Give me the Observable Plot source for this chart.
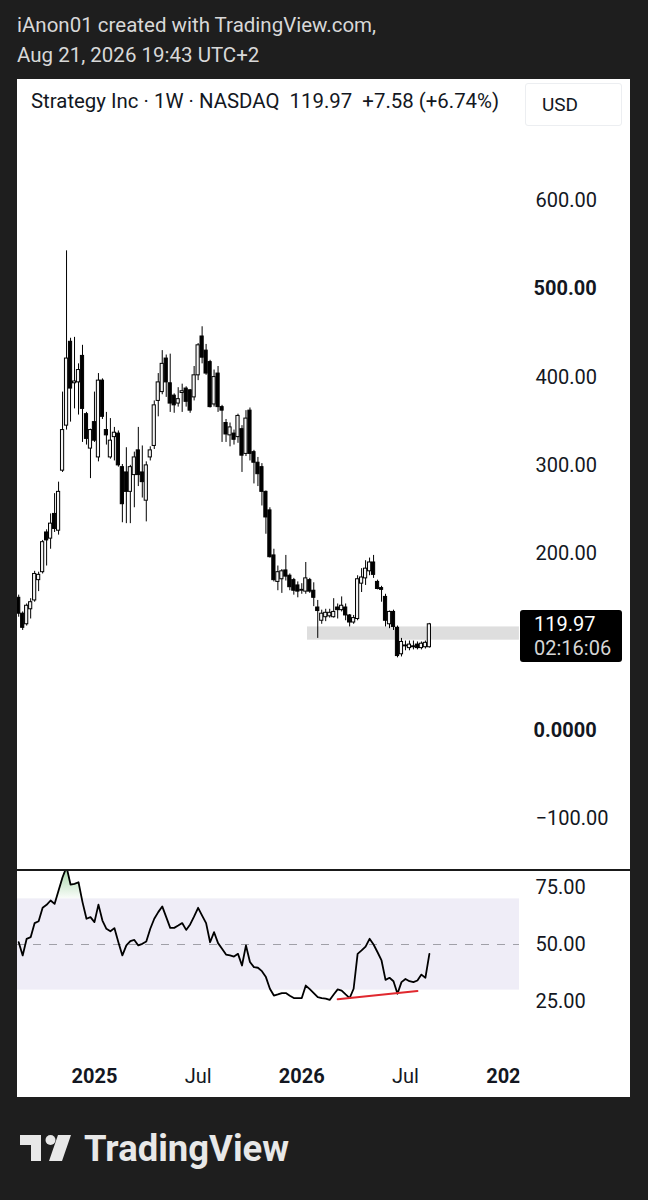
<!DOCTYPE html>
<html><head><meta charset="utf-8">
<script src="https://cdn.jsdelivr.net/npm/d3@7"></script>
<script src="https://cdn.jsdelivr.net/npm/@observablehq/plot@0.6"></script>
<style>
html,body{margin:0;padding:0;background:#1e1e1e;}
#wrap{position:relative;width:648px;height:1200px;overflow:hidden;font-family:Roboto,"Noto Sans",sans-serif;}
.credit{position:absolute;left:17px;color:#d8d8d8;font-size:20.5px;line-height:20px;white-space:pre;}
#panel{position:absolute;left:17px;top:79px;width:613px;height:1018px;background:#fff;overflow:hidden;}
#price{position:absolute;left:0;top:0;}
#rsi{position:absolute;left:0;top:792px;}
#sep{position:absolute;left:0;top:790px;width:613px;height:2px;background:#1a1a1a;}
#header{position:absolute;left:14px;top:11px;font-size:20.4px;line-height:22px;color:#131722;white-space:pre;}
#usd{position:absolute;left:508px;top:4px;width:95px;height:41px;border:1px solid #eceef1;border-radius:3px;font-size:19px;line-height:41px;color:#131722;}
#usd span{position:absolute;left:16px;}
#plabel{position:absolute;left:503px;width:102px;height:52px;background:#000;border-radius:3px;color:#fff;font-size:20px;}
#plabel .a{position:absolute;left:14px;top:3px;line-height:22px;}
#plabel .b{position:absolute;left:14px;top:27px;line-height:22px;color:#d6d6d6;}
#logo{position:absolute;left:0;top:1120px;}
</style></head>
<body><div id="wrap">
<div class="credit" style="top:15px">iAnon01 created with TradingView.com,</div>
<div class="credit" style="top:45px">Aug 21, 2026 19:43 UTC+2</div>
<div id="panel">
  <div id="price"></div>
  <div id="sep"></div>
  <div id="rsi"></div>
  <div id="header">Strategy Inc · 1W · NASDAQ  119.97  +7.58 (+6.74%)</div>
  <div id="usd"><span>USD</span></div>
  <div id="plabel"><div class="a">119.97</div><div class="b">02:16:06</div></div>
</div>
<svg id="logo" width="320" height="60">
  <rect x="20" y="15" width="21" height="10" fill="#e8e8e8"/>
  <rect x="31" y="15" width="10" height="26" fill="#e8e8e8"/>
  <circle cx="50.5" cy="20" r="5" fill="#e8e8e8"/>
  <polygon points="58,15 71,15 62,41 49,41" fill="#e8e8e8"/>
  <text x="84" y="41" font-family="Roboto, sans-serif" font-weight="700" font-size="36" fill="#e8e8e8" textLength="205" lengthAdjust="spacingAndGlyphs">TradingView</text>
</svg>
</div>
<script>
// ---------- data ----------
const firstWeek = "2024-08-26";
const lastWeekEnd = "2026-08-18";
const openP = [150,132,120,137,147,170,179,224,217,245, 226,294,345,440,393,394,424,358,319,349, 309,396,340,309,332,336,298,292,270,289, 317,292,260,309,322,373,383,421,393,379, 370,382,387,385,377,402,446,430,417,369, 404,366,348,334,336,332,341,313,362,315, 303,298,270,249,198,168,171,181,175,170, 164,158,157,170,158,139,124,128,129,128, 139,136,139,130,122,126,166,172,180,190, 168,161,151,120,134,116,86,96,93,95, 97,93,94,94];
const highP = [153,134,143,149,180,179,215,227,245,268, 281,383,543,444,445,415,436,360,341,383, 404,398,360,353,343,339,301,320,300,315, 343,322,304,321,373,404,430,425,426,381, 388,392,389,386,412,438,457,437,419,408, 412,368,352,348,340,358,345,362,365,317, 309,302,271,252,205,186,182,198,177,172, 168,166,190,172,167,147,136,137,137,149, 143,151,143,131,130,175,183,192,195,198, 170,163,154,135,136,118,104,101,101,101, 100,100,101,121];
const lowP = [128,113,118,126,145,157,177,186,205,224, 221,292,340,349,364,357,326,323,285,326, 304,352,323,307,305,298,235,234,234,252, 276,263,236,305,318,355,380,377,360,359, 366,360,366,359,373,396,415,402,365,366, 360,326,326,321,323,325,292,310,305,279, 276,254,222,195,168,158,155,169,158,153, 150,154,154,155,140,104,120,123,127,127, 126,134,124,117,120,124,156,164,175,172, 159,145,117,115,113,82,83,90,90,91, 91,91,92,93];
const closeP = [132,116,141,145,177,176,213,215,234,228, 270,340,421,387,395,408,364,330,340,328, 396,355,334,328,337,300,256,270,298,309, 289,281,300,317,368,394,415,394,370,368, 375,384,372,362,402,436,422,404,366,400, 366,362,335,343,329,356,311,353,313,303, 290,270,241,196,170,179,180,174,162,158, 157,159,172,157,150,135,132,133,133,134, 136,141,130,122,127,171,173,183,190,176, 160,159,124,134,117,84,100,95,97,94, 93,98,99,119.97];
const rsiVals = [51.0,45.2,52.5,53.2,59.4,60.2,66.1,67.4,69.3,67.8, 73.7,79.5,84.0,76.3,76.6,77.3,68.6,61.3,62.0,59.8, 67.5,60.5,56.9,55.8,57.2,51.0,45.2,49.6,51.5,52.0, 49.6,50.3,51.3,56.9,61.3,64.2,66.7,62.0,57.3,57.3, 58.3,59.4,56.4,58.8,62.3,66.1,62.7,59.4,51.0,55.4, 50.6,48.1,45.6,45.2,44.7,45.9,40.8,49.6,42.3,40.1, 39.8,38.3,35.7,30.6,27.6,28.1,28.7,28.7,27.5,26.5, 26.5,26.5,32.0,30.4,28.7,26.9,26.5,26.3,25.7,28.1, 30.3,29.8,28.1,26.5,30.6,45.9,47.4,49.1,52.5,50.0, 46.6,43.0,34.5,35.4,33.9,28.4,33.5,34.9,33.9,33.5, 34.2,36.8,35.4,45.9];
const lastPrice = 119.97;
const zone = [{start: "2026-01-15", end: "2027-01-22", low: 102, high: 117}];
const divergence = [{date: "2026-03-09", rsi: 26.0}, {date: "2026-07-27", rsi: 29.6}];
const rsiLevels = {upper: 70, middle: 50, lower: 30};
// the 100.00 tick is hidden behind the last-price label in the reference
const priceTicks = [600, 500, 400, 300, 200, 0, -100];
const priceTickLabels = ["600.00", "500.00", "400.00", "300.00", "200.00", "0.0000", "\u2212100.00"];
const priceTickBold = [false, true, false, false, false, true, false];
const rsiTicks = [75, 50, 25];
const rsiTickLabels = ["75.00", "50.00", "25.00"];
const timeTicks = ["2025-01-06", "2025-07-07", "2026-01-05", "2026-07-06", "2027-01-04"];
const timeTickLabels = ["2025", "Jul", "2026", "Jul", "2027"];
const timeTickBold = [true, false, true, false, true];

// ---------- build ----------
const dates = d3.utcMonday.range(new Date(firstWeek + "T00:00Z"), new Date(lastWeekEnd + "T00:00Z"));
const candles = openP.map((o, i) => ({date: dates[i], open: o, high: highP[i], low: lowP[i], close: closeP[i]}));
const bull = candles.filter(d => d.close >= d.open);
const bear = candles.filter(d => d.close < d.open);
const rsiData = rsiVals.map((v, i) => ({date: dates[i], rsi: v}));
const divData = divergence.map(d => ({date: new Date(d.date + "T00:00Z"), rsi: d.rsi}));
const zoneData = zone.map(z => ({start: new Date(z.start + "T00:00Z"), end: new Date(z.end + "T00:00Z"), low: z.low, high: z.high}));
const ptick = priceTicks.map((v, i) => ({v, label: priceTickLabels[i], bold: priceTickBold[i]}));
const rtick = rsiTicks.map((v, i) => ({v, label: rsiTickLabels[i]}));
const ttick = timeTicks.map((t, i) => ({date: new Date(t + "T00:00Z"), label: timeTickLabels[i], bold: timeTickBold[i]}));

const xDomain = [new Date("2024-08-23T21:26Z"), new Date("2027-01-22T05:00Z")];
const halfBody = 2.8 * 864e5;
const W = 613, MR = 111;
const font = {fontFamily: "Roboto, sans-serif", fontSize: "20px", color: "#131722", background: "transparent", overflow: "visible"};

const pricePlot = Plot.plot({
  width: W, height: 791,
  marginLeft: 0, marginRight: MR, marginTop: 0, marginBottom: 0,
  style: font,
  x: {type: "utc", domain: xDomain, axis: null},
  y: {domain: [-158.9, 737.1], axis: null},
  marks: [
    Plot.rect(zoneData, {x1: "start", x2: "end", y1: "low", y2: "high", fill: "#dedede", clip: true}),
    Plot.ruleX(candles, {x: "date", y1: "low", y2: "high", stroke: "#000", strokeWidth: 1}),
    Plot.rect(bear, {x1: d => new Date(+d.date - halfBody), x2: d => new Date(+d.date + halfBody), y1: "open", y2: "close", fill: "#000", stroke: "#000", strokeWidth: 1}),
    Plot.rect(bull, {x1: d => new Date(+d.date - halfBody), x2: d => new Date(+d.date + halfBody), y1: "open", y2: "close", fill: "#f4f4f4", stroke: "#000", strokeWidth: 1}),
    Plot.text(ptick.filter(d => !d.bold), {y: "v", text: "label", frameAnchor: "right", dx: 16, textAnchor: "start", fill: "#131722", fontSize: 20}),
    Plot.text(ptick.filter(d => d.bold), {y: "v", text: "label", frameAnchor: "right", dx: 14, textAnchor: "start", fill: "#131722", fontSize: 20, fontWeight: "bold"})
  ]
});
document.getElementById("price").appendChild(pricePlot);
const py = pricePlot.scale("y").apply(lastPrice);
document.getElementById("plabel").style.top = (py - 14) + "px";

const rsiPlot = Plot.plot({
  width: W, height: 226,
  marginLeft: 0, marginRight: MR, marginTop: 0, marginBottom: 47,
  style: font,
  x: {type: "utc", domain: xDomain, axis: null},
  y: {domain: [3.51, 82.02], axis: null},
  marks: [
    Plot.areaY(rsiData, {x: "date", y1: rsiLevels.upper, y2: "rsi", fill: "url(#obGrad)", clip: true}),
    Plot.rect([rsiLevels], {x1: () => xDomain[0], x2: () => xDomain[1], y1: () => 3.51, y2: "lower", fill: "#fff"}),
    Plot.rect([rsiLevels], {x1: () => xDomain[0], x2: () => xDomain[1], y1: "lower", y2: "upper", fill: "#efedf7"}),
    Plot.ruleY([rsiLevels.middle], {stroke: "#a0a0a8", strokeWidth: 1.2, strokeDasharray: "8,8"}),
    Plot.line(rsiData, {x: "date", y: "rsi", stroke: "#000", strokeWidth: 1.8, clip: true}),
    Plot.line(divData, {x: "date", y: "rsi", stroke: "#e0282e", strokeWidth: 2}),
    Plot.text(rtick, {y: "v", text: "label", frameAnchor: "right", dx: 16, textAnchor: "start", fill: "#131722", fontSize: 20}),
    Plot.text(ttick.filter(d => d.bold), {x: "date", text: "label", frameAnchor: "bottom", dy: 26, lineAnchor: "middle", fill: "#131722", fontSize: 20, fontWeight: "bold"}),
    Plot.text(ttick.filter(d => !d.bold), {x: "date", text: "label", frameAnchor: "bottom", dy: 26, lineAnchor: "middle", fill: "#131722", fontSize: 20})
  ]
});
document.getElementById("rsi").appendChild(rsiPlot);
{
  const ys = rsiPlot.scale("y");
  const svgEl = rsiPlot.tagName.toLowerCase() === "svg" ? rsiPlot : rsiPlot.querySelector("svg");
  const svg = d3.select(svgEl);
  const defs = svg.insert("defs", ":first-child");
  const g = defs.append("linearGradient").attr("id", "obGrad").attr("gradientUnits", "userSpaceOnUse")
    .attr("x1", 0).attr("x2", 0).attr("y1", ys.apply(82)).attr("y2", ys.apply(rsiLevels.upper));
  g.append("stop").attr("offset", "0").attr("stop-color", "#4caf50").attr("stop-opacity", 0.45);
  g.append("stop").attr("offset", "1").attr("stop-color", "#4caf50").attr("stop-opacity", 0.03);
  // the time axis is cut at the right edge of the plotting area, as in the reference
  defs.append("clipPath").attr("id", "xclip").attr("clipPathUnits", "userSpaceOnUse")
    .append("rect").attr("x", -1000).attr("y", -1000).attr("width", 1000 + W - MR).attr("height", 3000);
  svg.selectAll("text").each(function () {
    if (this.textContent === "2027") {
      const wrapper = document.createElementNS("http://www.w3.org/2000/svg", "g");
      wrapper.setAttribute("clip-path", "url(#xclip)");
      this.parentNode.insertBefore(wrapper, this);
      wrapper.appendChild(this);
    }
  });
}
</script>
</body></html>
